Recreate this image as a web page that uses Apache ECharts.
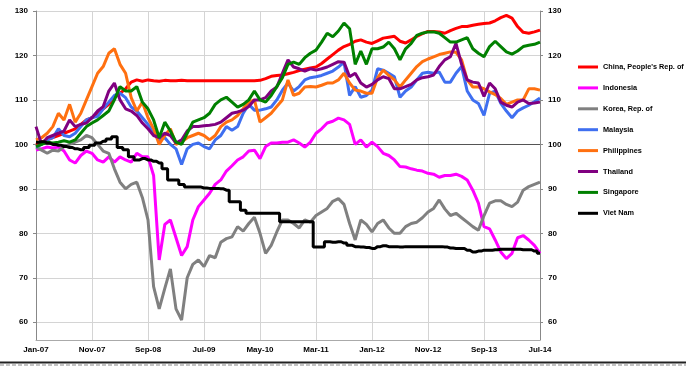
<!DOCTYPE html>
<html><head><meta charset="utf-8">
<script src="https://cdn.jsdelivr.net/npm/echarts@6/dist/echarts.min.js"></script>
<style>html,body{margin:0;padding:0;background:#fff}#c{width:686px;height:366px}</style>
</head><body><div id="c"></div><script>
const xLabels = ['Jan-07','Nov-07','Sep-08','Jul-09','May-10','Mar-11','Jan-12','Nov-12','Sep-13','Jul-14'];
const yTicks = [60,70,80,90,100,110,120,130];
const seriesNames = ['China, People\'s Rep. of','Indonesia','Korea, Rep. of','Malaysia','Philippines','Thailand','Singapore','Viet Nam'];

const china = [100,100.5,101,101.5,102,102.5,103,103.5,104.5,105.5,
106,107,108,109,110.5,111.5,112.5,114,114.5,114.2,
114.5,114.3,114.2,114.4,114.3,114.3,114.4,114.3,114.3,114.3,
114.3,114.3,114.3,114.3,114.3,114.3,114.3,114.3,114.3,114.3,
114.4,114.8,115.3,115.5,115.6,115.9,116.2,116.6,116.9,117.2,
117.4,118.2,119.2,120.2,121.2,122,122.5,123.2,123.5,123,
122.7,123.3,123.9,124.1,124.3,123.2,122.8,123.5,124.3,124.9,
125.4,125.4,125.3,125,125.6,126.1,126.5,126.5,126.8,127,
127.2,127.3,127.8,128.5,129,128.4,126.5,125.2,125,125.3,
125.7];
const indonesia = [98.7,99,99.4,99.2,99.4,98.5,96.5,95.8,97.5,98.5,
98,96.5,96,97.2,96,97.2,96.5,96,98,97.2,
97.2,93,74,82,83,79,75,77,83,86,
87.5,89,91,92,94,95.2,96.5,97.2,98.5,98.7,
96.8,99.5,100.3,100.3,100.5,100.5,101,100.3,99.4,100.5,
102.5,103.5,104.8,105.2,105.9,105.5,104.5,100,101,99.4,
100.5,99.5,98,97.5,96.5,95,94.9,94.5,94.2,94,
93.5,93.3,92.6,93,93,93.3,92.8,92,89.7,86.8,
81.5,81,78.5,75.8,74.3,75.5,79,79.5,78.5,77.3,
75.5];
const korea = [99.4,98.7,98,98.7,98.5,99.5,100,100.5,101,102,
101.5,100,98.5,98,94.5,91.5,90,91,91.5,88,
83,68,63,67.6,72,63,60.5,70,73,74,
72.5,75,74.5,78,78.8,79.2,81.5,80.5,82.2,83.6,
80,75.5,77.3,80.3,83,83,82.2,81.2,83,82.5,
84,84.8,85.6,87.2,87.8,86.5,82.2,78.5,83,82,
80.3,82.2,83,81.2,80,80,81.5,82.2,82.5,83.5,
84.8,85.6,87.5,85.5,84,84.5,83.5,82.5,81.5,80.7,
84,86.8,87.3,87.3,86.5,86,87,89.7,90.5,91,
91.5];
const malaysia = [99.4,100,101,101.5,103.5,102,101.7,102.5,104,105.5,
106,106.3,108,109.5,111,111.5,110.5,108.4,107.5,106,
104.5,102.5,101,101.5,100,99,95.5,99,100,100.3,
99.5,99,101,102,104,103.2,104,107,109,107.7,
107.7,108,108.4,110,112.2,113.8,112,113,114.5,115,
115.2,115.5,116,116.5,117.4,118.5,111,113,110.6,111,
112.2,117,116.7,116,115.2,110.6,112,112.9,114.5,116,
116.2,116,116.3,114,114,116,117.5,112,110,109.2,
106.5,111.5,112,109.2,107.5,106,107.5,108.2,108.8,109.6,
110.4];
const philippines = [101,101.5,102.5,104,107,105.5,109,105,107,110,
113,116,117.5,120.5,121.5,118,116,110.5,107.5,109.5,
106,103.5,100,102,103.5,100,100.5,101.5,102,102.5,
102,101,102,104,105,105.5,106.5,108,109.5,110,
105,106,107,108.5,110,114.5,111,111.5,112.9,113,
112.9,113.3,113.8,113.8,114.5,116,113.8,112.2,112,111.5,
111.5,115,116.7,115.5,114.5,112.9,114.5,116,117.5,118.6,
119.2,119.7,120.2,120.5,120.8,120.7,119,114.5,112.9,112.9,
112.5,111.8,111.2,110.3,109,109.5,110,110,112.5,112.5,
112.2];
const thailand = [104,100,101.5,102,102.5,103,105.5,104,104.5,104.8,
106,107.5,108.5,112,113.8,110,108,107.5,106.5,104.8,
103.5,102,101.5,102.5,102,100.3,101,103,104,104,
104.2,104.3,104.5,105,106,107,107.3,107.7,108.5,110,
110,110.5,112,112.9,116,119,117.4,117,116.5,117,
116.7,117,117.4,118,118.6,118.5,115.2,116,113.8,112.9,
113.5,114.5,115.2,114.8,112.5,112.5,113,113.5,114.5,115,
115.2,115.6,117.5,119,119.7,122.7,118,114.5,114,113.8,
110.8,113.8,112.5,109.5,108.8,108.4,109.5,110,109.2,109.3,
109.5];
const singapore = [99.5,100,100.5,100.3,100.5,100.8,100.5,101,102.5,104,
104.8,105.5,106.5,107.5,110,113,112,112,113,109.5,
108,105.5,101.5,105,103,100.5,100,102.5,105,105.5,
106,107,109,110,110.6,109.5,108.4,109,110,112,
110,109.5,111,113,115,118,118.5,118,119.5,120.5,
121.2,123,125,124.2,125.5,127.3,126,118,121,118,
121.5,121.5,121.9,123,121.5,119,121.5,122.7,124.5,125,
125.3,125.3,125,124,123,123,123.5,124,121.5,120.5,
119.7,122,123.2,122,120.8,120.3,121,122,122.3,122.5,
123];
const vietnam = [100.5,100.6,100.3,100,99.8,99.5,99.3,99,98.8,99.3,
99.8,100.3,100.7,101.2,101.7,99.3,98.8,97.2,96.5,96.8,
96.5,96.2,95.8,94.5,92,92,91,90.4,90.4,90.4,
90.2,90.1,90.1,90,89.7,87.1,87.1,85.2,84.5,84.5,
84.5,84.5,84.5,84.5,82.6,82.6,82.6,82.6,82.6,82.6,
76.9,76.9,78.1,78,78.1,77.8,77.3,77,76.9,76.8,
76.6,77,77.2,77,77,76.9,77,77,77,77,
77,77,77,76.9,76.7,76.6,76.6,76.2,75.8,76,
76.2,76.2,76.3,76.4,76.4,76.4,76.4,76.3,76.3,76,
75.5];

const allValues = [china, indonesia, korea, malaysia, philippines, thailand, singapore, vietnam];
const colors = ['#ff0000','#ff00ff','#808080','#3f6ff0','#ff7010','#800080','#008000','#000000'];

const FONT = 'Liberation Sans, Arial, sans-serif';
const chart = echarts.init(document.getElementById('c'), null, {renderer: 'canvas'});

const series = allValues.map((vals, k) => {
  const s = {
    name: seriesNames[k],
    type: 'line',
    data: vals.map((v, i) => [i, v]),
    showSymbol: false,
    symbol: 'none',
    lineStyle: {width: 3, color: colors[k]},
    itemStyle: {color: colors[k]},
    animation: false,
    z: 2 + k * 0.01
  };
  if (k === 7) s.step = 'middle';
  if (k === 0) {
    s.markLine = {
      silent: true, symbol: 'none', z: 1, animation: false,
      label: {show: false},
      lineStyle: {color: '#555', width: 1, type: 'solid'},
      data: [{yAxis: 100}]
    };
  }
  return s;
});

const yAxisBase = {
  type: 'value', min: 56, max: 130,
  axisLine: {show: true, lineStyle: {color: '#888', width: 1}},
  axisTick: {show: true, length: 3, customValues: yTicks, lineStyle: {color: '#888'}},
  axisLabel: {customValues: yTicks, color: '#000', fontSize: 8, fontWeight: 'bold', fontFamily: FONT, margin: 8},
  splitLine: {show: true, lineStyle: {color: '#d4d4d4', width: 1}}
};

chart.setOption({
  backgroundColor: '#fff',
  animation: false,
  grid: {left: 36, right: 146, top: 11, bottom: 26, containLabel: false},
  xAxis: {
    type: 'value', min: 0, max: 90, interval: 10,
    axisLine: {show: true, onZero: false, lineStyle: {color: '#aaa', width: 1}},
    axisTick: {show: false},
    axisLabel: {
      color: '#000', fontSize: 8, fontWeight: 'bold', fontFamily: FONT, margin: 6,
      formatter: v => xLabels[Math.round(v / 10)] || ''
    },
    splitLine: {show: true, lineStyle: {color: '#d4d4d4', width: 1}}
  },
  yAxis: [
    Object.assign({}, yAxisBase, {position: 'left'}),
    Object.assign({}, yAxisBase, {position: 'right', splitLine: {show: false}})
  ],
  legend: {
    orient: 'vertical', left: 573, top: 57,
    icon: 'rect', itemWidth: 20, itemHeight: 3, itemGap: 10.9,
    textStyle: {color: '#000', fontSize: 7.3, fontWeight: 'bold', fontFamily: FONT, lineHeight: 10},
    data: seriesNames
  },
  graphic: [
    {type: 'line', shape: {x1: 0, y1: 362.5, x2: 686, y2: 362.5}, style: {stroke: '#222', lineWidth: 2}, silent: true},
    {type: 'line', shape: {x1: 0, y1: 365, x2: 686, y2: 365}, style: {stroke: '#888', lineWidth: 1, lineDash: [4, 2]}, silent: true}
  ],
  series: series
});
</script></body></html>
